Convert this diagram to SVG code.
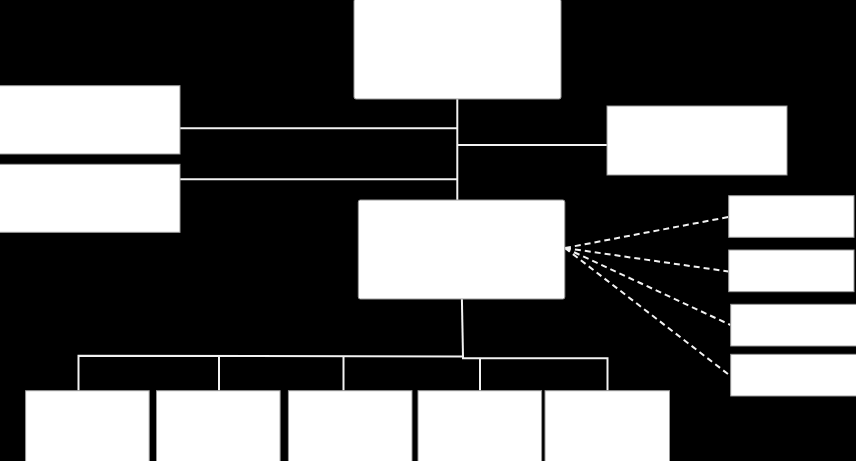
<svg xmlns="http://www.w3.org/2000/svg" width="856" height="461" viewBox="0 0 856 461">
<style>
.box{fill:#fff;stroke:#9a9a9a;stroke-width:1}
.ln{fill:none;stroke:#f2f2f2;stroke-width:2}
.dash{fill:none;stroke:#f2f2f2;stroke-width:2;stroke-dasharray:6 4}
</style>
<rect width="856" height="461" fill="#000"/>
<g id="connectors">
<path class="ln" d="M457.3 99V200"/>
<path class="ln" d="M180 128.3H457.3"/>
<path class="ln" d="M180 179.3H457.3"/>
<path class="ln" d="M457.3 145H607"/>
<path class="ln" d="M461.9 299L463 356.5"/>
<path class="ln" d="M78.5 390.7V355.7L463 356.5V358.3H607.5V390.7"/>
<path class="ln" d="M219 356.5V390.7M343.5 356.5V390.7M480 358.3V390.7"/>
<path class="dash" d="M565 248L728.5 217"/>
<path class="dash" d="M565 248L728.5 271.5"/>
<path class="dash" d="M565 248L730.5 325"/>
<path class="dash" d="M565 248L730.5 376"/>
</g>
<g id="n-top"><rect class="box" x="354" y="-1" width="207" height="100" rx="2"/></g>
<g id="n-left1"><rect class="box" x="-1" y="85.7" width="181" height="68.3"/></g>
<g id="n-left2"><rect class="box" x="-1" y="164.3" width="181" height="68"/></g>
<g id="n-right"><rect class="box" x="607" y="106" width="180" height="69"/></g>
<g id="n-mid"><rect class="box" x="358.3" y="200" width="206.5" height="99" rx="2"/></g>
<g id="n-r1"><rect class="box" x="728.7" y="195.7" width="125.3" height="41.6"/></g>
<g id="n-r2"><rect class="box" x="728.7" y="250" width="125.3" height="41.7"/></g>
<g id="n-r3"><rect class="box" x="730.7" y="304.3" width="126" height="41.7"/></g>
<g id="n-r4"><rect class="box" x="730.7" y="354.3" width="126" height="41.7"/></g>
<g id="n-b1"><rect class="box" x="25.6" y="390.7" width="123.6" height="71"/></g>
<g id="n-b2"><rect class="box" x="156.5" y="390.7" width="123.6" height="71"/></g>
<g id="n-b3"><rect class="box" x="288.4" y="390.7" width="123.6" height="71"/></g>
<g id="n-b4"><rect class="box" x="418" y="390.7" width="123.6" height="71"/></g>
<g id="n-b5"><rect class="box" x="545" y="390.7" width="124.5" height="71"/></g>
</svg>
